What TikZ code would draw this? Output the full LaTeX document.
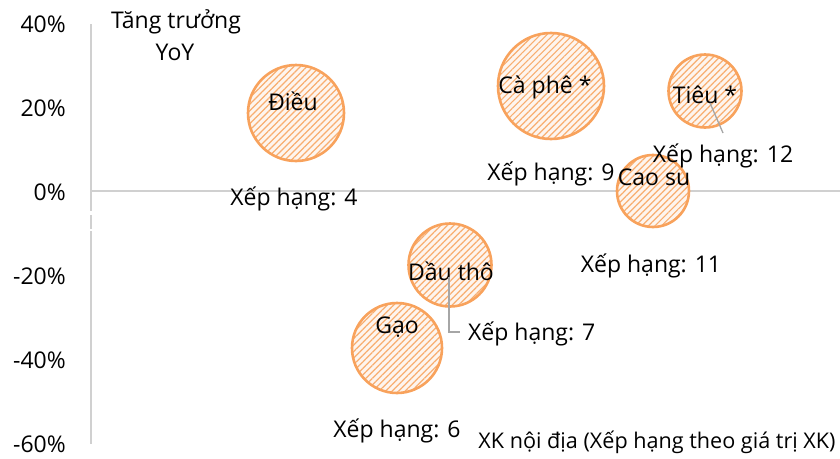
\documentclass[tikz,border=0pt]{standalone}
\usepackage{fontspec}
\setmainfont{Open Sans}
\usetikzlibrary{patterns.meta}
\definecolor{bord}{HTML}{F8A25C}
\definecolor{stripe}{HTML}{F8AE70}
\definecolor{bgfill}{HTML}{FEF5EE}
\definecolor{axisc}{HTML}{D0D0D0}
\definecolor{leadc}{HTML}{A6A6A6}
\tikzset{
  bubble/.style={circle, inner sep=0pt, draw=bord, line width=2.6pt,
    preaction={fill=bgfill},
    pattern={Lines[angle=45, distance=4.6pt, line width=1.2pt]}, pattern color=stripe},
  lbl/.style={inner sep=0pt, anchor=base, text=black},
  ytick/.style={inner sep=0pt, anchor=base east, text=black},
  axisline/.style={draw=axisc, line width=1.6pt},
  leader/.style={draw=leadc, line width=1.3pt}
}
\begin{document}
\begin{tikzpicture}[x=1pt,y=-1pt, font=\fontsize{23}{28}\selectfont]
\useasboundingbox (0,0) rectangle (840,458);
% axes
\coordinate (ya) at (91,24);
\coordinate (yb) at (91,211);
\coordinate (yc) at (91,215);
\coordinate (yd) at (91,229);
\coordinate (ye) at (91,231);
\coordinate (yf) at (91,444);
\coordinate (xa) at (92,191);
\coordinate (xb) at (840,191);
\draw[axisline] (ya) -- (yb);
\draw[axisline] (yc) -- (yd);
\draw[axisline] (ye) -- (yf);
\draw[axisline] (xa) -- (xb);
% y ticks
\node[ytick] (t40) at (66,32) {40\%};
\node[ytick] (t20) at (66,116) {20\%};
\node[ytick] (t0) at (66,200) {0\%};
\node[ytick] (tm20) at (66,284) {-20\%};
\node[ytick] (tm40) at (66,368) {-40\%};
\node[ytick] (tm60) at (66,452) {-60\%};
% axis titles
\node[lbl] (ytitle1) at (176,28) {Tăng trưởng};
\node[lbl] (ytitle2) at (175,60) {YoY};
\node[lbl] (xtitle) at (657,448) {\fontsize{21.6}{26}\selectfont XK nội địa (Xếp hạng theo giá trị XK)};
% bubbles
\node[bubble, minimum size=96pt] (bdieu) at (296,113) {};
\node[bubble, minimum size=106pt] (bcaphe) at (551,86) {};
\node[bubble, minimum size=73pt] (btieu) at (705,91) {};
\node[bubble, minimum size=72pt] (bcaosu) at (653,191) {};
\node[bubble, minimum size=83pt] (bdautho) at (450,265) {};
\node[bubble, minimum size=90pt] (bgao) at (397,348) {};
% bubble labels
\node[lbl] (ldieu) at (293,110) {Điều};
\node[lbl] (lcaphe) at (545,93) {Cà phê *};
\node[lbl] (ltieu) at (705,103) {Tiêu *};
\node[lbl] (lcaosu) at (654,185) {Cao su};
\node[lbl] (ldautho) at (451,280) {Dầu thô};
\node[lbl] (lgao) at (397,333) {Gạo};
% rank labels
\node[lbl] (r4) at (294,205) {Xếp hạng: 4};
\node[lbl] (r9) at (551,180) {Xếp hạng: 9};
\node[lbl] (r12) at (723,162) {Xếp hạng: 12};
\node[lbl] (r11) at (651,272) {Xếp hạng: 11};
\node[lbl, anchor=base west] (r7) at (468,340) {Xếp hạng: 7};
\node[lbl] (r6) at (397,437) {Xếp hạng: 6};
% leaders
\coordinate (l7a) at (449,277);
\coordinate (l7b) at (460,332);
\draw[leader] (l7a) |- (l7b);
\coordinate (l12a) at (710,103);
\coordinate (l12b) at (723,133);
\draw[leader] (l12a) -- (l12b);
\end{tikzpicture}
\end{document}
